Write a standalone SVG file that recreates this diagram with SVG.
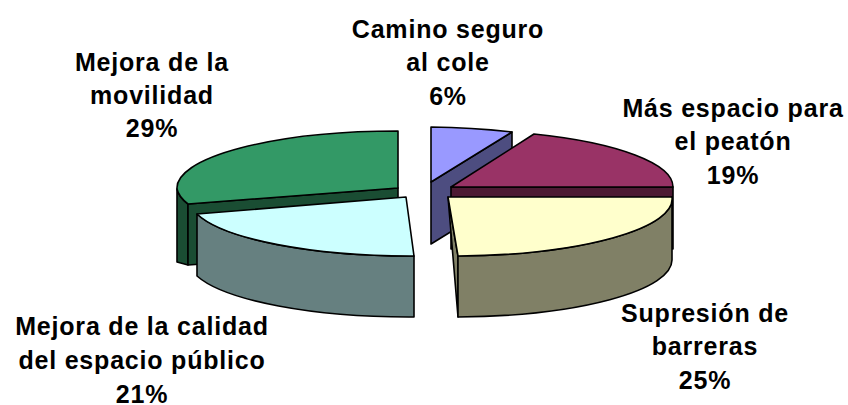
<svg xmlns="http://www.w3.org/2000/svg" width="848" height="405" viewBox="0 0 848 405">
<style>
.e{stroke:#000;stroke-width:1.6;stroke-linejoin:round}
.lbl{font-family:"Liberation Sans",Arial,sans-serif;font-weight:bold;font-size:25px;letter-spacing:0.8px;fill:#000;text-anchor:middle}
</style>
<rect width="848" height="405" fill="#fff"/>
<g id="slice-camino">
<path class="e" fill="#4D4D80" d="M431,182 L512,132 L512,194 L431,244 Z"/>
<path class="e" fill="#9999FF" d="M431,182 L431,127 A221,56 0 0 1 512,132 Z"/>
</g>
<g id="slice-movilidad">
<path class="e" fill="#1A4D33" d="M177,189 A221,57 0 0 0 188,204 L188,265 L177,262 Z"/>
<path class="e" fill="#1A4D33" d="M398,188 L188,204 L188,265 L398,250 Z"/>
<path class="e" fill="#339966" d="M398,188 L398,131 A221,57 0 0 0 177,189 A221,57 0 0 0 188,204 Z"/>
</g>
<g id="slice-peaton">
<path class="e" fill="#4D1A33" d="M451,187 L673,187 L673,249 L451,249 Z"/>
<path class="e" fill="#993366" d="M451,187 L534,134 A221,57 0 0 1 673,187 Z"/>
</g>
<g id="slice-calidad">
<path class="e" fill="#668080" d="M197,214 A221,57 0 0 0 414,256 L414,317 A221,57 0 0 1 197,276 Z"/>
<path class="e" fill="#CCFFFF" d="M406,197 L414,256 A221,57 0 0 1 197,214 Z"/>
</g>
<g id="slice-barreras">
<path class="e" fill="#808066" d="M448,197 L458,256 L458,317 Z"/>
<path class="e" fill="#808066" d="M672,197 A221,57 0 0 1 458,256 L458,317 A221,57 0 0 0 672,260 Z"/>
<path class="e" fill="#FFFFCC" d="M448,197 L672,197 A221,57 0 0 1 458,256 Z"/>
</g>
<g id="connectors"></g>
<g id="labels">
<text class="lbl" x="448"><tspan x="448" y="38">Camino seguro</tspan><tspan x="448" y="71">al cole</tspan><tspan x="448" y="105">6%</tspan></text>
<text class="lbl" x="152"><tspan x="152" y="71">Mejora de la</tspan><tspan x="152" y="104">movilidad</tspan><tspan x="152" y="137">29%</tspan></text>
<text class="lbl" x="733"><tspan x="733" y="117">Más espacio para</tspan><tspan x="733" y="150">el peatón</tspan><tspan x="733" y="184">19%</tspan></text>
<text class="lbl" x="705"><tspan x="705" y="322">Supresión de</tspan><tspan x="705" y="355">barreras</tspan><tspan x="705" y="389">25%</tspan></text>
<text class="lbl" x="142"><tspan x="142" y="335">Mejora de la calidad</tspan><tspan x="142" y="369">del espacio público</tspan><tspan x="142" y="403">21%</tspan></text>
</g>
</svg>
